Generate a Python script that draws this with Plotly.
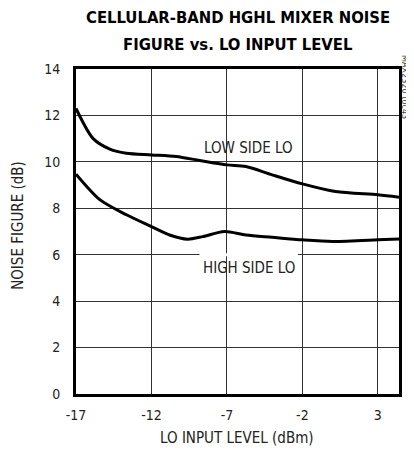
import plotly.graph_objects as go

low_x = [-17, -15.86, -14.76, -13.66, -12, -10.36, -8.8, -7, -5.74, -4.0, -2, 0.2, 3, 4.4]
low_y = [12.3, 11.0, 10.55, 10.37, 10.3, 10.23, 10.06, 9.87, 9.8, 9.44, 9.05, 8.72, 8.58, 8.48]
high_x = [-17, -15.4, -13.66, -12, -10.8, -9.6, -8.6, -7.17, -5.74, -4.0, -2, 0, 3, 4.4]
high_y = [9.47, 8.36, 7.72, 7.21, 6.85, 6.67, 6.78, 7.0, 6.85, 6.75, 6.64, 6.57, 6.64, 6.68]
x_ticks = [-17, -12, -7, -2, 3]
x_tick_text = ["-17", "-12", "-7", "-2", "3"]
y_ticks = [0, 2, 4, 6, 8, 10, 12, 14]

FONT = "DejaVu Sans Condensed, Liberation Sans Narrow, Liberation Sans, sans-serif"

fig = go.Figure()
for xs, ys in [(low_x, low_y), (high_x, high_y)]:
    fig.add_trace(go.Scatter(x=xs, y=ys, mode="lines",
                             line=dict(color="black", width=3, shape="spline", smoothing=0.8),
                             showlegend=False, hoverinfo="skip"))

fig.add_shape(type="line", x0=-8.82, x1=-2.29, y0=6, y1=6, xref="x", yref="y",
              line=dict(color="white", width=3), layer="between")

fig.add_annotation(x=-5.56, y=10.6, text="LOW SIDE LO", showarrow=False,
                   font=dict(family=FONT, size=15, color="#222"))
fig.add_annotation(x=-5.52, y=5.42, text="HIGH SIDE LO", showarrow=False,
                   font=dict(family=FONT, size=15, color="#222"))
fig.add_annotation(x=1.018, y=0.945, xref="paper", yref="paper", text="MAX2320 toc43",
                   showarrow=False, textangle=90, xanchor="center", yanchor="middle",
                   font=dict(family=FONT, size=9, color="#444"))
fig.add_annotation(x=0.5, y=1.16, xref="paper", yref="paper",
                   text="<b>CELLULAR-BAND HGHL MIXER NOISE</b>", showarrow=False,
                   xanchor="center", yanchor="middle",
                   font=dict(family=FONT, size=16.5, color="black"))
fig.add_annotation(x=0.5, y=1.074, xref="paper", yref="paper",
                   text="<b>FIGURE vs. LO INPUT LEVEL</b>", showarrow=False,
                   xanchor="center", yanchor="middle",
                   font=dict(family=FONT, size=16.5, color="black"))
fig.add_annotation(x=0.498, y=-0.135, xref="paper", yref="paper",
                   text="LO INPUT LEVEL (dBm)", showarrow=False,
                   xanchor="center", yanchor="middle",
                   font=dict(family=FONT, size=15, color="#222"))
fig.add_annotation(x=-0.18, y=0.52, xref="paper", yref="paper",
                   text="NOISE FIGURE (dB)", showarrow=False, textangle=-90,
                   xanchor="center", yanchor="middle",
                   font=dict(family=FONT, size=15, color="#222"))

fig.update_layout(
    width=406, height=448,
    margin=dict(l=68, r=13, t=61, b=62),
    paper_bgcolor="white", plot_bgcolor="white",
    font=dict(family=FONT, size=14, color="#222"),
)
fig.update_xaxes(range=[-17, 4.4], tickvals=x_ticks, ticktext=x_tick_text,
                 showgrid=True, gridcolor="#333", gridwidth=1,
                 showline=True, linecolor="black", linewidth=3, mirror=True, ticks="",
                 zeroline=False, ticklabelstandoff=6, tickfont=dict(size=14))
fig.update_yaxes(range=[0, 14], tickvals=y_ticks, showgrid=True, gridcolor="#333", gridwidth=1,
                 showline=True, linecolor="black", linewidth=3, mirror=True, ticks="",
                 zeroline=False, ticklabelstandoff=10, tickfont=dict(size=14))

fig.write_html("out.html")
